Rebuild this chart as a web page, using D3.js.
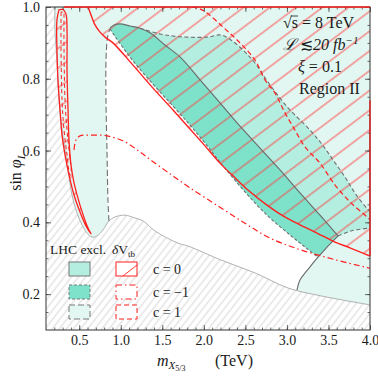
<!DOCTYPE html>
<html><head><meta charset="utf-8">
<script src="https://cdn.jsdelivr.net/npm/d3@7"></script>
<style>
body{margin:0;background:#fff}
text{font-family:"Liberation Serif",serif;fill:#1a1a1a}
</style></head><body>
<svg id="chart" width="378" height="377"></svg>
<script>
// tick values
var xTicks = [0.5, 1.0, 1.5, 2.0, 2.5, 3.0, 3.5, 4.0];
var yTicks = [0.2, 0.4, 0.6, 0.8, 1.0];

// edge of the allowed region (left side then bottom curve), [m, sinphi]
var allowedEdge = [[0.208,1.0],[0.208,0.936],[0.232,0.852],[0.256,0.741],[0.293,0.657],[0.329,0.602],
  [0.365,0.546],[0.413,0.476],[0.473,0.426],[0.533,0.393],[0.594,0.370],[0.654,0.359],[0.714,0.362],
  [0.786,0.379],[0.858,0.404],[0.931,0.415],[1.051,0.420],[1.171,0.412],[1.268,0.404],[1.412,0.376],
  [1.689,0.342],[1.809,0.334],[2.206,0.295],[2.616,0.259],[3.013,0.217],[3.410,0.195],[4.0,0.170]];

// LHC exclusion contours
var vEdge = [[0.858,0.404],[0.846,0.462],[0.834,0.602],[0.822,0.741],[0.822,0.852],[0.834,0.902],[0.846,0.922],[0.870,0.939]];
var dLower = [[0.870,0.939],[0.943,0.914],[1.147,0.850],[1.388,0.785],[1.629,0.724],[1.833,0.671],[2.014,0.621],
  [2.194,0.568],[2.495,0.485],[2.760,0.420],[3.037,0.365],[3.218,0.331],[3.374,0.303]];
var sUpper = [[0.870,0.941],[0.919,0.950],[0.991,0.953],[1.111,0.947],[1.231,0.941],[1.352,0.928],[1.532,0.894],
  [1.713,0.861],[1.954,0.797],[2.194,0.733],[2.435,0.668],[2.676,0.607],[2.917,0.546],[3.157,0.482],[3.398,0.420],[3.615,0.362]];
var sLower = [[3.615,0.362],[3.494,0.334],[3.374,0.303],[3.278,0.276],[3.157,0.239],[3.121,0.211]];
var mTop = [[1.231,0.941],[1.472,0.925],[1.629,0.919],[1.809,0.916],[2.038,0.916],[2.206,0.922],[2.327,0.908],
  [2.471,0.880],[2.616,0.844],[2.772,0.791],[3.013,0.719],[3.242,0.666],[3.410,0.621],[3.555,0.574],
  [3.699,0.526],[3.844,0.473],[4.0,0.429]];
var mLow = [[3.615,0.362],[3.771,0.376],[4.0,0.384]];
var bottomGap = [[3.013,0.217],[2.616,0.259],[2.206,0.295],[1.809,0.334],[1.689,0.342],[1.412,0.376],
  [1.268,0.404],[1.171,0.412],[1.051,0.420],[0.931,0.415]];

// delta Vtb contours
var vtbC0 = [[0.606,1.0],[0.642,0.978],[0.690,0.950],[0.750,0.930],[0.822,0.914],[0.906,0.900],[1.147,0.838],
  [1.388,0.774],[1.629,0.713],[1.833,0.660],[2.014,0.613],[2.194,0.565],[2.375,0.524],[2.556,0.485],
  [2.760,0.448],[2.953,0.418],[3.157,0.393],[3.362,0.370],[3.579,0.345],[3.759,0.329],[4.0,0.306]];
var vtbC0Loop = [[0.256,0.992],[0.232,0.964],[0.232,0.880],[0.244,0.797],[0.269,0.713],[0.293,0.643],[0.329,0.588],
  [0.377,0.532],[0.437,0.476],[0.509,0.429],[0.581,0.390],[0.642,0.368],[0.606,0.384],[0.509,0.448],[0.437,0.510],
  [0.401,0.560],[0.377,0.629],[0.365,0.713],[0.353,0.824],[0.353,0.936],[0.341,0.980],[0.305,0.994]];
var vtbC1 = [[0.317,1.0],[1.918,0.997],[2.038,0.983],[2.231,0.944],[2.435,0.900],[2.616,0.852],[2.736,0.797],
  [2.857,0.760],[2.977,0.705],[3.097,0.657],[3.218,0.610],[3.398,0.565],[3.579,0.504],[3.759,0.457],[3.964,0.415],[4.0,0.407]];
var vtbC1Loop = [[0.281,0.986],[0.281,0.880],[0.293,0.741],[0.317,0.657],[0.353,0.588],[0.389,0.532],[0.401,0.532],
  [0.377,0.602],[0.353,0.657],[0.329,0.741],[0.317,0.880],[0.317,0.986]];
var vtbCm1 = [[0.437,0.602],[0.461,0.629],[0.509,0.641],[0.630,0.643],[0.834,0.641],[1.051,0.624],[1.231,0.596],
  [1.376,0.571],[1.593,0.535],[1.833,0.496],[2.194,0.442],[2.519,0.394],[2.796,0.356],[3.157,0.324],[3.579,0.296],[4.0,0.272]];

var cLabels = ["c = 0", "c = \u22121", "c = 1"];

var svg = d3.select("#chart");
var x = d3.scaleLinear().domain([0.1, 4.0]).range([46, 370]);
var y = d3.scaleLinear().domain([0.1, 1.0]).range([330, 7]);

var curve = d3.line().x(function(d){ return x(d[0]); }).y(function(d){ return y(d[1]); })
  .curve(d3.curveCatmullRom.alpha(0.5));
function seg(pts, first){ var s = curve(pts); return first ? s : s.replace(/^M/, "L"); }
function pt(p){ return "L" + x(p[0]) + "," + y(p[1]); }
function rev(a){ return a.slice().reverse(); }

var defs = svg.append("defs");
var gh = defs.append("pattern").attr("id", "grayHatch").attr("patternUnits", "userSpaceOnUse")
  .attr("width", 8).attr("height", 5.6).attr("patternTransform", "rotate(-52)");
gh.append("line").attr("x1", 0).attr("x2", 8).attr("y1", 2.8).attr("y2", 2.8)
  .attr("stroke", "#c4c4c4").attr("stroke-width", 0.7);
var rh = defs.append("pattern").attr("id", "redHatch").attr("patternUnits", "userSpaceOnUse")
  .attr("width", 30).attr("height", 15.8).attr("patternTransform", "translate(0,3) rotate(-37)");
rh.append("line").attr("x1", 0).attr("x2", 30).attr("y1", 7.9).attr("y2", 7.9)
  .attr("stroke", "#ff3b3b").attr("stroke-width", 0.9);
defs.append("clipPath").attr("id", "plotClip").append("rect")
  .attr("x", 46).attr("y", 7).attr("width", 324).attr("height", 323);

var plot = svg.append("g").attr("clip-path", "url(#plotClip)");

// theory-excluded hatch
plot.append("path").attr("fill", "url(#grayHatch)")
  .attr("d", "M" + x(0.1) + "," + y(1.0) + seg(allowedEdge) + pt([4.0, 0.1]) + pt([0.1, 0.1]) + "Z");

// c = 1 LHC region (light) everywhere in the allowed region, then the gap
plot.append("path").attr("fill", "#e3f7f2")
  .attr("d", seg(allowedEdge, true) + pt([4.0, 1.0]) + "Z");
plot.append("path").attr("fill", "#ffffff")
  .attr("d", seg(vEdge, true) + seg(dLower) + seg(sLower.slice(2)) + seg(bottomGap) + "Z");
// c = 0 (medium)
plot.append("path").attr("fill", "#b4eee0")
  .attr("d", seg(mTop, true) + pt([4.0, 0.384]) + seg(rev(mLow)) + seg(rev(sUpper.slice(4))) + "Z");
// c = -1 (dark)
plot.append("path").attr("fill", "#7ee2cb")
  .attr("d", seg(sUpper, true) + seg(sLower.slice(0, 3)) + seg(rev(dLower)) + "Z");

// delta Vtb c = 0 hatched region
plot.append("path").attr("fill", "url(#redHatch)")
  .attr("d", seg(vtbC0, true) + pt([4.0, 1.0]) + "Z");
plot.append("path").attr("fill", "url(#redHatch)")
  .attr("d", seg(vtbC0Loop, true) + "Z");

// LHC contour lines
function stroke(d, col, w, dash){
  plot.append("path").attr("d", d).attr("fill", "none").attr("stroke", col)
    .attr("stroke-width", w).attr("stroke-dasharray", dash || null);
}
stroke(seg(allowedEdge, true), "#a8a8a8", 0.9);
stroke(seg(vEdge, true), "#707070", 1.1, "6,3");
stroke(seg(dLower, true), "#707070", 1.1, "3,2");
stroke(seg(sUpper, true) + seg(sLower.slice(1)), "#6a6a6a", 1.1);
stroke(seg(mTop, true), "#707070", 1.1, "4,2.5");
stroke(seg(mLow, true), "#707070", 1.1, "4,2.5");

// delta Vtb contour lines
stroke(seg(vtbC0, true), "#ff2020", 1.4);
stroke(seg(vtbC0Loop, true) + "Z", "#ff2020", 1.3);
stroke(seg(vtbC1, true), "#ff2020", 1.2, "5,3");
stroke(seg(vtbC1Loop, true) + "Z", "#ff2020", 1.0, "4,3");
stroke(seg(vtbCm1, true), "#ff2020", 1.2, "6,3,1.5,3");

// frame and ticks
var ax = svg.append("g");
function axisG(axis, tx, ty){
  return ax.append("g").attr("transform", "translate(" + tx + "," + ty + ")").call(axis);
}
var fmt = d3.format(".1f");
var xMinor = d3.range(2, 40).map(function(i){ return i / 10; });
var yMinor = d3.range(3, 20).map(function(i){ return i / 20; });
axisG(d3.axisBottom(x).tickValues(xTicks).tickFormat(fmt).tickSize(-5).tickPadding(5), 0, 330);
axisG(d3.axisBottom(x).tickValues(xMinor).tickFormat("").tickSize(-2.5), 0, 330);
axisG(d3.axisTop(x).tickValues(xTicks).tickFormat("").tickSize(-5), 0, 7);
axisG(d3.axisTop(x).tickValues(xMinor).tickFormat("").tickSize(-2.5), 0, 7);
axisG(d3.axisLeft(y).tickValues(yTicks).tickFormat(fmt).tickSize(-5).tickPadding(6), 46, 0);
axisG(d3.axisLeft(y).tickValues(yMinor).tickFormat("").tickSize(-2.5), 46, 0);
axisG(d3.axisRight(y).tickValues(yTicks).tickFormat("").tickSize(-5), 370, 0);
axisG(d3.axisRight(y).tickValues(yMinor).tickFormat("").tickSize(-2.5), 370, 0);
ax.selectAll(".domain").remove();
ax.selectAll(".tick line").attr("stroke", "#444").attr("stroke-width", 0.8);
ax.selectAll(".tick text").style("font-family", "Liberation Serif").style("font-size", "14px").attr("fill", "#1a1a1a");
svg.append("rect").attr("x", 46).attr("y", 7).attr("width", 324).attr("height", 323)
  .attr("fill", "none").attr("stroke", "#333").attr("stroke-width", 1);
// region edges running along the frame
svg.append("path").attr("d", "M" + x(0.317) + "," + y(1.0) + "H" + x(4.0))
  .attr("fill", "none").attr("stroke", "#ff2020").attr("stroke-width", 1.4);
svg.append("path").attr("d", "M" + x(4.0) + "," + y(0.74) + "V" + y(0.306))
  .attr("fill", "none").attr("stroke", "#e02020").attr("stroke-width", 1.4);

// axis titles
var yl = svg.append("text").attr("transform", "translate(21,172) rotate(-90)")
  .attr("text-anchor", "middle").style("font-size", "16px");
yl.append("tspan").text("sin ");
yl.append("tspan").style("font-style", "italic").text("\u03c6");
yl.append("tspan").style("font-style", "italic").style("font-size", "11px").attr("dy", 4).text("L");
var xl = svg.append("text").attr("x", 157).attr("y", 366).style("font-size", "16px");
xl.append("tspan").style("font-style", "italic").text("m");
xl.append("tspan").style("font-style", "italic").style("font-size", "11px").attr("dy", 3).text("X");
xl.append("tspan").style("font-size", "8px").attr("dy", 2).text("5/3");
svg.append("text").attr("x", 215).attr("y", 366).style("font-size", "16px").text("(TeV)");

// annotation
var t1 = svg.append("text").attr("x", 283).attr("y", 28).style("font-size", "16px");
t1.append("tspan").text("\u221as = 8 TeV");
var t1n = t1.node();
var sx0 = 283 + t1n.getSubStringLength(0, 1), sw = t1n.getSubStringLength(1, 1);
svg.append("line").attr("x1", sx0 - 1).attr("x2", sx0 + sw).attr("y1", 16).attr("y2", 16)
  .attr("stroke", "#1a1a1a").attr("stroke-width", 0.8);
var t2 = svg.append("text").attr("x", 283).attr("y", 50).style("font-size", "16px");
t2.append("tspan").style("font-style", "italic").text("\u2112");
t2.append("tspan").text(" \u2272");
t2.append("tspan").style("font-style", "italic").text("20 fb");
t2.append("tspan").style("font-style", "italic").style("font-size", "11px").attr("dy", -6).text("\u22121");
var t3 = svg.append("text").attr("x", 298).attr("y", 72).style("font-size", "16px");
t3.append("tspan").style("font-style", "italic").text("\u03be");
t3.append("tspan").text(" = 0.1");
svg.append("text").attr("x", 299).attr("y", 94).style("font-size", "16px").text("Region II");

// legend
svg.append("text").attr("x", 50).attr("y", 254).style("font-size", "13.5px").text("LHC excl.");
var lv = svg.append("text").attr("x", 112).attr("y", 254).style("font-size", "13.5px");
lv.append("tspan").style("font-style", "italic").text("\u03b4");
lv.append("tspan").text("V");
lv.append("tspan").style("font-size", "9px").attr("dy", 3).text("tb");
var rowY = [262, 285, 305];
var lhcFill = ["#b4eee0", "#7ee2cb", "#e3f7f2"];
var lhcDash = [null, "3,2", "6,3"];
var vtbDash = [null, "6,3,1.5,3", "5,3"];
rowY.forEach(function(ry, i){
  svg.append("rect").attr("x", 69).attr("y", ry).attr("width", 21).attr("height", 14)
    .attr("fill", lhcFill[i]).attr("stroke", "#777").attr("stroke-width", 1).attr("stroke-dasharray", lhcDash[i]);
  svg.append("rect").attr("x", 116).attr("y", ry).attr("width", 21).attr("height", 14)
    .attr("fill", "#fff").attr("stroke", "#ff2020").attr("stroke-width", 1).attr("stroke-dasharray", vtbDash[i]);
  if (i === 0) {
    svg.append("line").attr("x1", 123).attr("y1", ry + 14).attr("x2", 137).attr("y2", ry + 3)
      .attr("stroke", "#ff2020").attr("stroke-width", 0.9);
  }
  svg.append("text").attr("x", 153).attr("y", ry + 12).style("font-size", "14px").text(cLabels[i]);
});
</script>
</body></html>
